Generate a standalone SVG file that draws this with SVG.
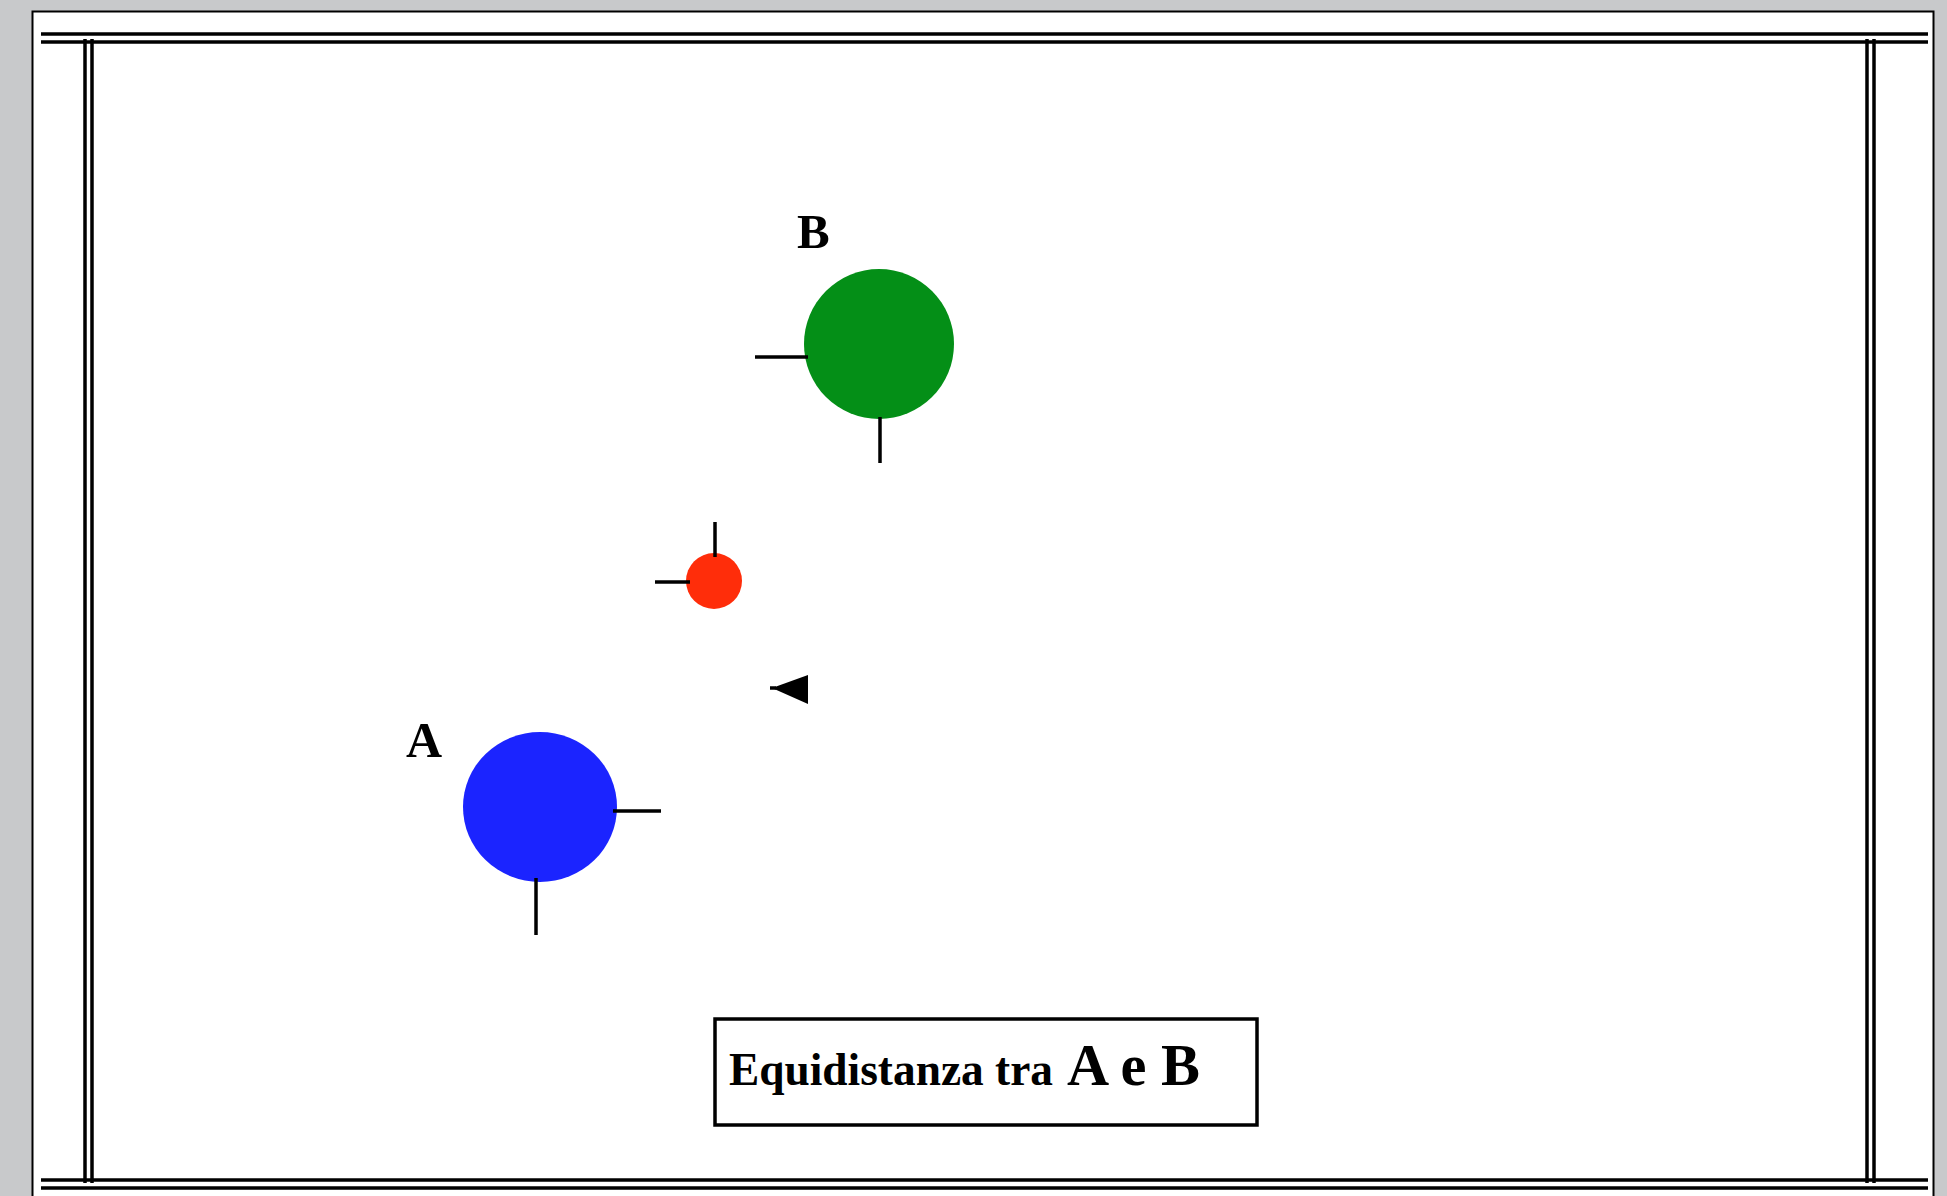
<svg xmlns="http://www.w3.org/2000/svg" width="1947" height="1196" viewBox="0 0 1947 1196">
<style>
.frame{stroke:#000;stroke-width:3.5;fill:none}
.tick{stroke:#000;stroke-width:3.5;fill:none}
.lbl{font-family:"Liberation Serif","Times New Roman",serif;font-weight:bold;fill:#000}
</style>
<rect x="0" y="0" width="1947" height="1196" fill="#c8c9cb"/>
<rect x="32.5" y="11.5" width="1901" height="1200" fill="#fff" stroke="#000" stroke-width="2"/>
<g id="frame">
<line class="frame" x1="41" y1="34" x2="1928" y2="34"/>
<line class="frame" x1="41" y1="42" x2="1928" y2="42"/>
<line class="frame" x1="41" y1="1180" x2="1928" y2="1180"/>
<line class="frame" x1="41" y1="1188" x2="1928" y2="1188"/>
<line class="frame" x1="85" y1="39" x2="85" y2="1183"/>
<line class="frame" x1="92" y1="39" x2="92" y2="1183"/>
<line class="frame" x1="1867" y1="39" x2="1867" y2="1183"/>
<line class="frame" x1="1874" y1="39" x2="1874" y2="1183"/>
</g>
<g id="nodeB">
<circle cx="879" cy="344" r="75" fill="#048f17"/>
<text class="lbl" x="797" y="248" font-size="49">B</text>
</g>
<g id="nodeRed">
<circle cx="714" cy="581" r="28" fill="#ff2d0a"/>
</g>
<g id="nodeA">
<ellipse cx="540" cy="807" rx="77" ry="75" fill="#1b24ff"/>
<text class="lbl" x="406" y="757" font-size="50">A</text>
</g>
<g id="arrow">
<polygon points="772,688 808,675 808,704" fill="#000"/>
<line class="tick" x1="770" y1="688" x2="776" y2="688"/>
</g>
<g id="connectors">
<line class="tick" x1="755" y1="357" x2="808" y2="357"/>
<line class="tick" x1="880" y1="417" x2="880" y2="463"/>
<line class="tick" x1="655" y1="582" x2="690" y2="582"/>
<line class="tick" x1="715" y1="522" x2="715" y2="557"/>
<line class="tick" x1="613" y1="811" x2="661" y2="811"/>
<line class="tick" x1="536" y1="878" x2="536" y2="935"/>
</g>
<g id="caption">
<rect x="715" y="1019" width="542" height="106" fill="#fff" stroke="#000" stroke-width="3.5"/>
<text class="lbl" x="729" y="1085" font-size="46" textLength="324" lengthAdjust="spacingAndGlyphs">Equidistanza tra</text>
<text class="lbl" x="1067" y="1085" font-size="60" textLength="133" lengthAdjust="spacingAndGlyphs">A e B</text>
</g>
</svg>
